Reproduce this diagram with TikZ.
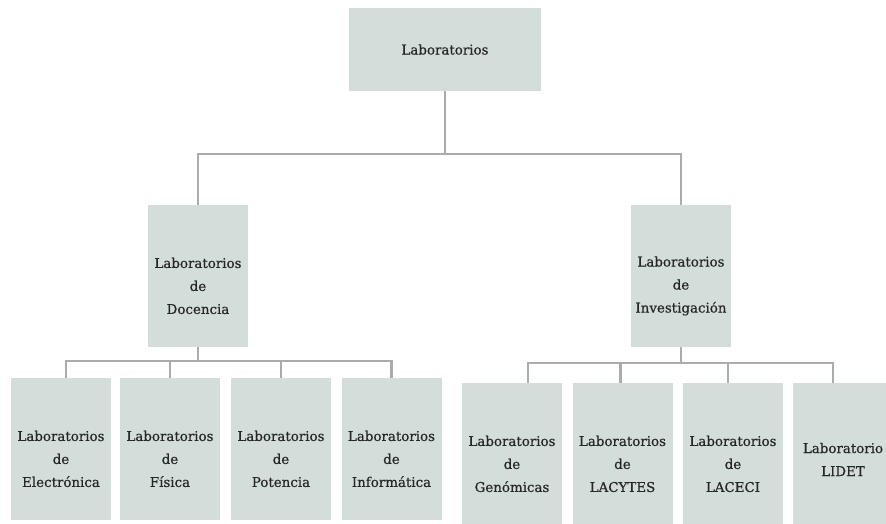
\documentclass[tikz,border=0pt]{standalone}
\usepackage{fontspec}
\setmainfont{DejaVu Serif}[FakeBold=0.5]
\usetikzlibrary{calc}
\definecolor{Sage}{HTML}{D3DEDA}
\definecolor{Wire}{HTML}{ABABAB}
\definecolor{Ink}{HTML}{262626}
\tikzset{
  conn/.style={line width=2.8pt,draw=Wire},
  labbox/.style={fill=Sage,text=Ink,align=center,minimum width=100pt,minimum height=142pt,inner sep=0pt,
    font=\fontsize{13.4}{23}\selectfont,execute at begin node={\rule{0pt}{#1}}},
  labbox/.default=76pt,
  topbox/.style={fill=Sage,text=Ink,align=center,minimum width=192pt,minimum height=83pt,inner sep=0pt,
    font=\fontsize{13.4}{23}\selectfont}
}
\begin{document}
\begin{tikzpicture}[x=1pt,y=-1pt]
  \clip (0,0) rectangle (886,523);
  \fill[white] (0,0) rectangle (886,523);
  % first and second level
  \node[topbox] (lab) at (445,49.5) {Laboratorios};
  \node[labbox] (doc) at (198,276) {Laboratorios\\de\\Docencia};
  \node[labbox] (inv) at (681,276) {Laboratorios\\de\\Investigación};
  \coordinate (bus) at (0,154);
  \draw[conn] (lab.south) -- (lab.south |- bus) -| (doc.north);
  \draw[conn] (lab.south |- bus) -| (inv.north);
  % docencia
  \node[labbox] (ele) at (61,449) {Laboratorios\\de\\Electrónica};
  \node[labbox] (fis) at (170,449) {Laboratorios\\de\\Física};
  \node[labbox] (pot) at (281,449) {Laboratorios\\de\\Potencia};
  \node[labbox] (inf) at (391.5,449) {Laboratorios\\de\\Informática};
  \coordinate (busd) at (0,361);
  \draw[conn] (doc.south) -- (doc.south |- busd);
  \draw[conn] ([xshift=5pt]ele.north) |- (inf.north |- busd) -- (inf.north);
  \draw[conn] (fis.north) -- (fis.north |- busd);
  \draw[conn] (pot.north) -- (pot.north |- busd);
  % investigacion
  \node[labbox] (gen) at (512,454) {Laboratorios\\de\\Genómicas};
  \node[labbox] (lcy) at (622.5,454) {Laboratorios\\de\\LACYTES};
  \node[labbox] (lce) at (733,454) {Laboratorios\\de\\LACECI};
  \node[labbox=44pt] (lid) at (843,454) {Laboratorio\\LIDET};
  \coordinate (busi) at (0,363);
  \draw[conn] (inv.south) -- (inv.south |- busi);
  \draw[conn] ([xshift=16pt]gen.north) |- ([xshift=-10pt]lid.north |- busi) -- ([xshift=-10pt]lid.north);
  \draw[conn] ([xshift=-2pt]lcy.north) -- ([xshift=-2pt]lcy.north |- busi);
  \draw[conn] ([xshift=-5pt]lce.north) -- ([xshift=-5pt]lce.north |- busi);
\end{tikzpicture}
\end{document}
